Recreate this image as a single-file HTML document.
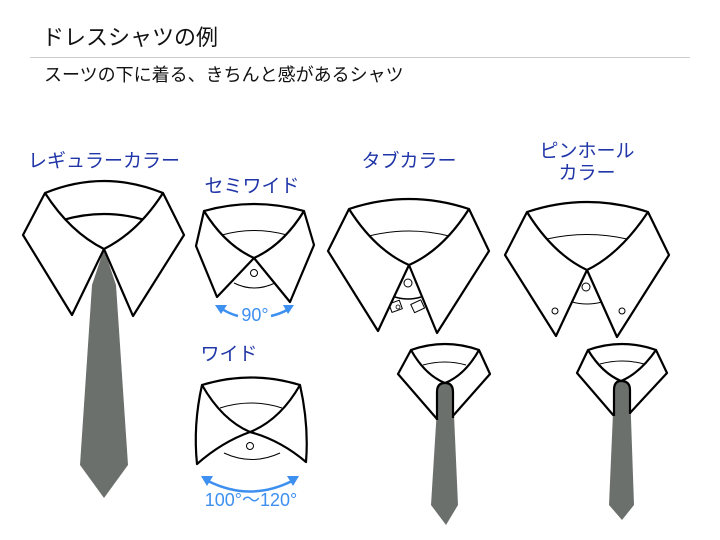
<!DOCTYPE html>
<html><head><meta charset="utf-8"><style>
html,body{margin:0;padding:0;background:#fff;}
body{width:720px;height:540px;overflow:hidden;position:relative;font-family:"Liberation Sans","Noto Sans CJK JP",sans-serif;}
</style></head><body>
<svg width="720" height="540" viewBox="0 0 720 540" xmlns="http://www.w3.org/2000/svg" style="position:absolute;left:0;top:0">
<g font-family="Liberation Sans, Noto Sans CJK JP, sans-serif">
<text x="42" y="45" font-size="22" fill="#111">ドレスシャツの例</text>
<line x1="30" y1="57.5" x2="690" y2="57.5" stroke="#ccc" stroke-width="1"/>
<text x="44" y="81" font-size="18" fill="#111">スーツの下に着る、きちんと感があるシャツ</text>
<g fill="#1f35a8" font-size="19" text-anchor="middle">
<text x="104" y="167">レギュラーカラー</text>
<text x="252" y="192">セミワイド</text>
<text x="409" y="167">タブカラー</text>
<text x="587" y="157">ピンホール</text>
<text x="587" y="179">カラー</text>
<text x="229" y="360">ワイド</text>
</g>
</g>

<g stroke="#000" stroke-width="2.2" fill="#fff" stroke-linejoin="round">
<!-- Regular -->
<path d="M63,220 Q104,208 145,220" fill="none"/>
<path d="M104,249 L92,285 L80,465 L104,498 L128,465 L116,285 Z" fill="#6c706d" stroke="none"/>
<path d="M45,193 Q70,232 104,249 L72,315 L23,235 Z"/>
<path d="M163,193 Q138,232 104,249 L133,316 L184,235 Z"/>
<path d="M45,193 Q104,169 163,193" fill="none"/>

<!-- Semi-wide -->
<path d="M222,235 Q254,226 287,235" fill="none" stroke-width="1"/>
<circle cx="254" cy="273" r="3.5" stroke-width="1"/>
<path d="M234,283 Q254,293 275,283" fill="none" stroke-width="1"/>
<path d="M204,211 Q225,245 254,258 L217,297 L196,246 Z"/>
<path d="M304,211 Q283,245 254,258 L290,302 L314,245 Z"/>
<path d="M204,211 Q254,197 304,211" fill="none"/>

<!-- Tab -->
<path d="M369,236 Q409,226 449,236" fill="none" stroke-width="1"/>
<circle cx="408" cy="283" r="4" stroke-width="1"/>
<path d="M395,297 Q408,301 421,297" fill="none" stroke-width="1.5"/>
<rect x="390" y="302" width="11" height="9" transform="rotate(-20 395 306)" stroke-width="1"/>
<rect x="412" y="302" width="11" height="9" transform="rotate(-25 417 306)" stroke-width="1"/>
<circle cx="398" cy="307" r="2" stroke-width="0.8"/>
<path d="M349,209 Q375,250 409,265 L378,331 L328,251 Z"/>
<path d="M469,209 Q443,250 409,265 L437,333 L489,251 Z"/>
<path d="M349,209 Q409,189 469,209" fill="none"/>

<!-- Pinhole -->
<path d="M547,239 Q587,230 627,239" fill="none" stroke-width="1"/>
<circle cx="586" cy="287" r="4" stroke-width="1"/>
<path d="M572,302 Q587,306 602,302" fill="none" stroke-width="1"/>
<path d="M527,212 Q553,254 587,270 L556,336 L505,255 Z"/>
<path d="M648,212 Q620,254 587,270 L617,337 L669,255 Z"/>
<path d="M527,212 Q587,192 648,212" fill="none"/>
<circle cx="555" cy="311" r="3" stroke-width="1"/>
<circle cx="622" cy="311" r="3" stroke-width="1"/>

<!-- Wide -->
<path d="M220,408 Q251,398 282,408" fill="none" stroke-width="1"/>
<circle cx="250" cy="446" r="3.5" stroke-width="1"/>
<path d="M224,453 Q252,466 280,453" fill="none" stroke-width="1"/>
<path d="M202,385 Q222,420 250,432 Q222,442 197,464 Q193,425 202,385 Z"/>
<path d="M300,385 Q280,420 250,432 Q280,440 306,462 Q309,425 300,385 Z"/>
<path d="M202,385 Q251,370 300,385" fill="none"/>

<!-- Tab with tie -->
<path d="M423,365 Q445,359 466,365" fill="none" stroke-width="1"/>
<path d="M411,350 Q425,375 445,383 L437,419 L398,374 Z"/>
<path d="M479,350 Q465,375 445,383 L452,417 L490,374 Z"/>
<path d="M411,350 Q445,338 479,350" fill="none"/>
<path d="M438,392 Q438,383 445,383 Q453,383 453,392 L458,505 L446,525 L431,505 Z" fill="#6c706d" stroke="none"/>
<path d="M437,420 L437,392 Q437,383 445,383 Q453,383 453,392 L453,418" fill="none"/>

<!-- Pinhole with tie -->
<path d="M600,364 Q622,358 644,364" fill="none" stroke-width="1"/>
<path d="M588,350 Q602,373 621,381 L614,416 L577,373 Z"/>
<path d="M656,350 Q640,373 621,381 L629,414 L667,373 Z"/>
<path d="M588,350 Q622,338 656,350" fill="none"/>
<path d="M614,390 Q614,381 621,381 Q630,381 630,390 L634,505 L622,520 L609,505 Z" fill="#6c706d" stroke="none"/>
<path d="M614,416 L614,390 Q614,381 621,381 Q630,381 630,390 L630,414" fill="none"/>
</g>

<!-- blue arrows -->
<g stroke="#3d8ff0" stroke-width="2.5" fill="none">
<path d="M222,309 Q230,314 238,316"/>
<path d="M271,316 Q280,314 289,309"/>
<path d="M208,481 Q250,502 292,481"/>
</g>
<g fill="#3d8ff0">
<polygon points="215,305 227,305 221,314"/>
<polygon points="294,305 283,305 288,314"/>
<polygon points="201,476 213,476 207,486"/>
<polygon points="299,476 287,476 293,486"/>
</g>
<g fill="#3d8ff0" font-family="Liberation Sans, Noto Sans CJK JP, sans-serif" font-size="18" text-anchor="middle">
<text x="255" y="321">90°</text>
<text x="251" y="506">100°〜120°</text>
</g>
</svg>
</body></html>
